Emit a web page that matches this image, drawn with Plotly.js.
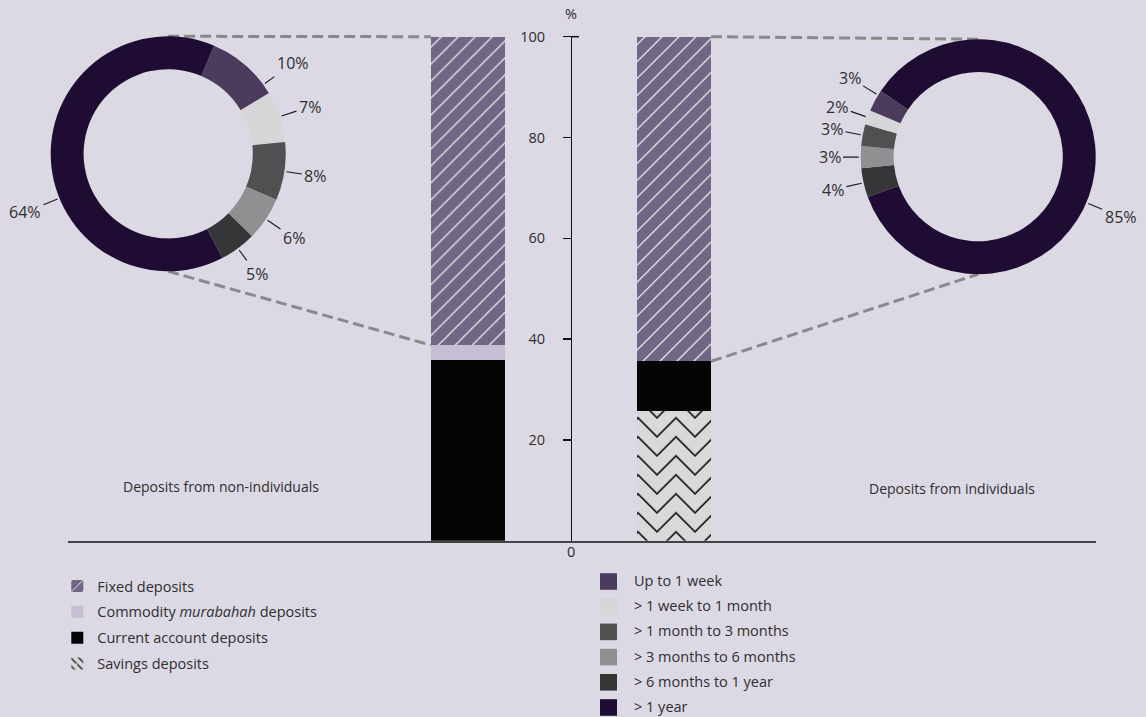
<!DOCTYPE html>
<html>
<head>
<meta charset="utf-8">
<script src="https://cdn.plot.ly/plotly-3.0.1.min.js"></script>
<style>
  html, body { margin: 0; padding: 0; background: #DCD9E4; }
  #chart { width: 1146px; height: 717px; }
</style>
</head>
<body>
<div id="chart"></div>
<script>
// ---------------- data ----------------
const barCategories = ['Deposits from non-individuals', 'Deposits from individuals'];
const savingsDeposits = [null, 25.7];
const currentAccountDeposits = [35.9, 9.9];
const commodityMurabahahDeposits = [2.9, null];
const fixedDeposits = [61.2, 64.4];

const maturityLabels = ['Up to 1 week', '> 1 week to 1 month', '> 1 month to 3 months',
                        '> 3 months to 6 months', '> 6 months to 1 year', '> 1 year'];
const nonIndividualMaturity = [10, 7, 8, 6, 5, 64];
const individualMaturity = [3, 2, 3, 3, 4, 85];

const yTickValues = [20, 40, 60, 80, 100];

// ---------------- styles / layout constants ----------------
const W = 1146, H = 717;
const BG = '#DCD9E4';
const TEXT = '#2E2E2E';
const FONT = 'Open Sans, Noto Sans, sans-serif';
const maturityColors = ['#4B3B5C', '#D6D6D8', '#505052', '#909093', '#363638', '#1F0C33'];
const fixedColor = '#706685', commodityColor = '#C6BED3', currentColor = '#050505', savingsColor = '#D9D9DB';

const frame = { left: 68, right: 1096, top: 36.7, bottom: 540.7 };
const xRange = [-1.9417, 3.0485];
const barGap = 0.64;
const barWidth = 1 - barGap;

const leftPieDomain = { x: [50.7 / W, 285.7 / W], y: [1 - 271.3 / H, 1 - 36.3 / H] };
const rightPieDomain = { x: [860.7 / W, 1095.7 / W], y: [1 - 274.2 / H, 1 - 39.2 / H] };
const leftRotation = 23, rightRotation = 250;
const rightOrder = [4, 3, 2, 1, 0, 5];   // clockwise drawing order for the right ring
const leftOrder = [0, 1, 2, 3, 4, 5];
const leftNudge = [13, 0, 0, 0, 0, -20];
const rightNudge = [3, 0, 0, 0, 0, 16];

// ---------------- helpers ----------------
const sum = a => a.reduce((s, v) => s + (v || 0), 0);
const xDataToPx = x => frame.left + (x - xRange[0]) / (xRange[1] - xRange[0]) * (frame.right - frame.left);
const yValToPx = v => frame.bottom - v / 100 * (frame.bottom - frame.top);
const pxToPaperX = px => px / W;
const pxToPaperY = py => 1 - py / H;

const ctx = document.createElement('canvas').getContext('2d');
function textWidth(t, size) { ctx.font = size + 'px "Open Sans"'; return ctx.measureText(t).width; }

function pieGeom(domain) {
  const cx = (domain.x[0] + domain.x[1]) / 2 * W;
  const cy = (1 - (domain.y[0] + domain.y[1]) / 2) * H;
  const R = Math.min((domain.x[1] - domain.x[0]) * W, (domain.y[1] - domain.y[0]) * H) / 2;
  return { cx, cy, R };
}

const pieLabelSize = 16;
function pieLabelAnnotations(values, order, rotation, domain, nudges) {
  const g = pieGeom(domain);
  const total = sum(values);
  let cum = 0;
  const anns = [];
  order.forEach(i => {
    const v = values[i];
    const deg = rotation + (cum + v / 2) / total * 360 + (nudges[i] || 0);
    cum += v;
    const a = deg * Math.PI / 180;
    const ux = Math.sin(a), uy = -Math.cos(a);
    const px = g.cx + (g.R + 2) * ux, py = g.cy + (g.R + 2) * uy;
    const text = v + '%';
    const hw = textWidth(text, pieLabelSize) / 2 + 2, hh = 11;
    const e = Math.min(Math.abs(ux) > 1e-6 ? hw / Math.abs(ux) : 1e9,
                       Math.abs(uy) > 1e-6 ? hh / Math.abs(uy) : 1e9);
    const d = 16 + e;
    anns.push({
      xref: 'paper', yref: 'paper', x: pxToPaperX(px), y: pxToPaperY(py),
      ax: d * ux, ay: d * uy, text: text, showarrow: true, arrowhead: 0,
      arrowwidth: 1.1, arrowcolor: '#1A1A1A', standoff: 0, borderpad: 2,
      font: { family: FONT, size: pieLabelSize, color: TEXT }
    });
  });
  return anns;
}

// zig-zag tile for savings deposits
function zig(y0, t) {
  return `M0,${y0}L19,${y0 + 19}L38,${y0}L38,${y0 + t}L19,${y0 + 19 + t}L0,${y0 + t}Z`;
}
const zigzagPath = zig(0, 2.2) + zig(19, 2.2) + zig(-19, 2.2);

// ---------------- traces ----------------
const barBase = { type: 'bar', x: barCategories, hoverinfo: 'skip' };
const traces = [
  Object.assign({}, barBase, {
    name: 'Savings deposits', y: savingsDeposits, legendgroup: 'g4', legendrank: 4,
    marker: { color: savingsColor, line: { width: 0 },
      pattern: { path: zigzagPath, fgcolor: '#0A0A0A', fgopacity: 1, fillmode: 'overlay', size: 38 } }
  }),
  Object.assign({}, barBase, {
    name: 'Current account deposits', y: currentAccountDeposits, legendgroup: 'g3', legendrank: 3,
    marker: { color: currentColor, line: { width: 0 } }
  }),
  Object.assign({}, barBase, {
    name: 'Commodity <i>murabahah</i> deposits', y: commodityMurabahahDeposits, legendgroup: 'g2', legendrank: 2,
    marker: { color: commodityColor, line: { width: 0 } }
  }),
  Object.assign({}, barBase, {
    name: 'Fixed deposits', y: fixedDeposits, legendgroup: 'g1', legendrank: 1,
    marker: { color: fixedColor, line: { width: 0 },
      pattern: { shape: '/', fgcolor: '#FFFFFF', fgopacity: 1, fillmode: 'overlay', size: 12, solidity: 0.1 } }
  }),
  {
    type: 'pie', values: leftOrder.map(i => nonIndividualMaturity[i]), labels: leftOrder.map(i => maturityLabels[i]),
    marker: { colors: leftOrder.map(i => maturityColors[i]), line: { width: 0 } },
    hole: 0.72, sort: false, direction: 'clockwise', rotation: leftRotation,
    textinfo: 'none', showlegend: false, domain: leftPieDomain, hoverinfo: 'skip'
  },
  {
    type: 'pie', values: rightOrder.map(i => individualMaturity[i]), labels: rightOrder.map(i => maturityLabels[i]),
    marker: { colors: rightOrder.map(i => maturityColors[i]), line: { width: 0 } },
    hole: 0.72, sort: false, direction: 'clockwise', rotation: rightRotation,
    textinfo: 'none', showlegend: false, domain: rightPieDomain, hoverinfo: 'skip'
  }
];

// ---------------- geometry-derived decorations ----------------
const axisPx = xDataToPx(0.5);
const axisPaper = pxToPaperX(axisPx);
const lp = pieGeom(leftPieDomain), rp = pieGeom(rightPieDomain);
const total0 = sum([savingsDeposits[0], currentAccountDeposits[0], commodityMurabahahDeposits[0], fixedDeposits[0]]);
const total1 = sum([savingsDeposits[1], currentAccountDeposits[1], commodityMurabahahDeposits[1], fixedDeposits[1]]);
const leftEdgePx = xDataToPx(0 - barWidth / 2);
const rightEdgePx = xDataToPx(1 + barWidth / 2);

const dashLine = { color: '#8A8A8A', width: 3, dash: '11px,5px' };
function seg(x0, y0, x1, y1) {
  return { type: 'line', xref: 'paper', yref: 'paper', layer: 'below',
    x0: pxToPaperX(x0), y0: pxToPaperY(y0), x1: pxToPaperX(x1), y1: pxToPaperY(y1), line: dashLine };
}
const shapes = [
  seg(lp.cx, lp.cy - lp.R, leftEdgePx, yValToPx(total0)),
  seg(lp.cx, lp.cy + lp.R, leftEdgePx, yValToPx(total0 - fixedDeposits[0])),
  seg(rightEdgePx, yValToPx(total1), rp.cx, rp.cy - rp.R),
  seg(rightEdgePx, yValToPx(total1 - fixedDeposits[1]), rp.cx, rp.cy + rp.R),
  { type: 'line', xref: 'paper', yref: 'paper', x0: pxToPaperX(axisPx), x1: pxToPaperX(axisPx + 8),
    y0: pxToPaperY(yValToPx(100)), y1: pxToPaperY(yValToPx(100)), line: { color: '#111', width: 1.5 } }
];

// custom maturity legend
const legendTop = 581.5, legendStep = 25.2;
const annotations = [];
maturityLabels.forEach((lab, k) => {
  const yc = legendTop + k * legendStep;
  shapes.push({ type: 'rect', xref: 'paper', yref: 'paper', line: { width: 0 },
    fillcolor: maturityColors[k],
    x0: pxToPaperX(600), x1: pxToPaperX(617), y0: pxToPaperY(yc - 8.3), y1: pxToPaperY(yc + 8.3) });
  annotations.push({ xref: 'paper', yref: 'paper', x: pxToPaperX(632.3), y: pxToPaperY(yc - 1),
    xanchor: 'left', yanchor: 'middle', showarrow: false, text: lab,
    font: { family: FONT, size: 14.5, color: TEXT } });
});

annotations.push(
  { xref: 'paper', yref: 'paper', x: axisPaper, y: pxToPaperY(13.3), text: '%', showarrow: false,
    xanchor: 'center', yanchor: 'middle', font: { family: FONT, size: 14.5, color: TEXT } },
  { xref: 'paper', yref: 'paper', x: axisPaper, y: pxToPaperY(551.7), text: '0', showarrow: false,
    xanchor: 'center', yanchor: 'middle', font: { family: FONT, size: 14.5, color: TEXT } },
  { xref: 'paper', yref: 'paper', x: pxToPaperX(321), y: pxToPaperY(486.7), text: barCategories[0], showarrow: false,
    xanchor: 'right', yanchor: 'middle', font: { family: FONT, size: 14, color: TEXT } },
  { xref: 'paper', yref: 'paper', x: pxToPaperX(866.7), y: pxToPaperY(488.3), text: barCategories[1], showarrow: false,
    xanchor: 'left', yanchor: 'middle', font: { family: FONT, size: 14, color: TEXT } }
);
annotations.push(...pieLabelAnnotations(nonIndividualMaturity, leftOrder, leftRotation, leftPieDomain, leftNudge));
annotations.push(...pieLabelAnnotations(individualMaturity, rightOrder, rightRotation, rightPieDomain, rightNudge));

const layout = {
  width: W, height: H, autosize: false,
  margin: { l: 0, r: 0, t: 0, b: 0, pad: 0 },
  paper_bgcolor: BG, plot_bgcolor: BG,
  font: { family: FONT, size: 14.5, color: TEXT },
  barmode: 'stack', bargap: barGap,
  hovermode: false,
  xaxis: {
    domain: [frame.left / W, frame.right / W], range: xRange, type: 'category',
    showticklabels: false, ticks: '', showline: true, linecolor: '#444', linewidth: 2,
    showgrid: false, zeroline: false, fixedrange: true
  },
  yaxis: {
    domain: [1 - frame.bottom / H, 1 - frame.top / H], range: [0, 100],
    anchor: 'free', position: axisPaper,
    tickvals: yTickValues, ticks: 'outside', ticklen: 8, tickwidth: 1.5, tickcolor: '#111',
    showline: true, linecolor: '#111', linewidth: 1.5, showgrid: false, zeroline: false,
    tickfont: { family: FONT, size: 14.5, color: TEXT }, ticklabelstandoff: 15, fixedrange: true
  },
  legend: {
    x: (97.3 - 40) / W, y: pxToPaperY(570), xanchor: 'left', yanchor: 'top',
    bgcolor: 'rgba(0,0,0,0)', borderwidth: 0,
    font: { family: FONT, size: 14.5, color: TEXT },
    traceorder: 'grouped', tracegroupgap: 4, itemclick: false, itemdoubleclick: false
  },
  shapes: shapes,
  annotations: annotations
};

Plotly.newPlot('chart', traces, layout, { displayModeBar: false, staticPlot: true });
</script>
</body>
</html>
